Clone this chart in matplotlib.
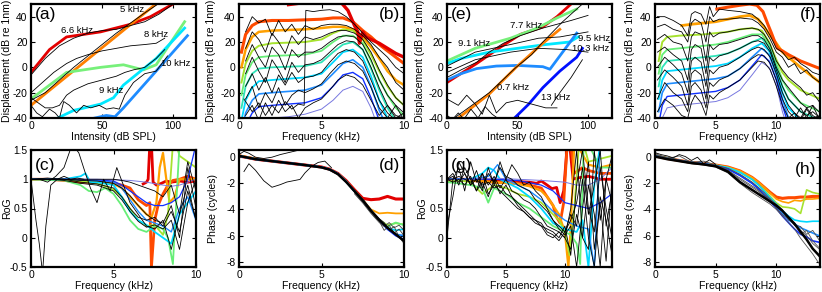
import matplotlib.pyplot as plt

plt.rcParams["font.family"] = ["Liberation Sans", "DejaVu Sans"]
plt.rcParams["font.size"] = 7.4
plt.rcParams["axes.labelsize"] = 7.6
plt.rcParams["axes.unicode_minus"] = False
plt.rcParams["axes.linewidth"] = 1.6
plt.rcParams["xtick.direction"] = "in"
plt.rcParams["ytick.direction"] = "in"
plt.rcParams["xtick.top"] = True
plt.rcParams["ytick.right"] = True
plt.rcParams["xtick.major.size"] = 3
plt.rcParams["ytick.major.size"] = 3
plt.rcParams["xtick.major.width"] = 0.8
plt.rcParams["ytick.major.width"] = 0.8
plt.rcParams["xtick.major.pad"] = 2.5
plt.rcParams["ytick.major.pad"] = 2.5

# ---------------- (a) level functions, first preparation ----------------
a_labels = ["6.6 kHz", "5 kHz", "8 kHz", "9 kHz", "10 kHz"]
a_x = [
    [0, 13, 25, 49, 70, 84, 103],
    [0, 45, 90],
    [0, 25, 49, 65, 79, 88, 95, 108],
    [17, 30, 49, 58, 65, 88, 108],
    [41, 53, 59, 65, 84, 110],
]
a_y = [
    [-4, 14, 24, 28, 34, 40, 52],
    [-30, 11, 52],
    [-25, -4, 0, 2, -2, 2, 14, 36],
    [-41, -34, -29, -24, -14, 7, 31],
    [-41, -38, -39, -32, -8, 25],
]
a_black_x = [
    [0, 10, 20, 30, 40, 50, 60, 70, 80, 92],
    [0, 10, 20, 30, 40, 50, 60, 70, 80, 90, 100],
    [0, 8, 16, 25, 32, 40, 50, 60, 70, 80, 88, 94],
    [0, 5, 10, 15, 20, 25, 30, 40, 50, 60, 66, 72, 80, 88, 94],
    [0, 4, 8, 13, 17, 20, 23, 27, 32, 37, 42, 48, 53, 58, 62, 66, 72, 80, 88, 96],
]
a_black_y = [
    [-26, -20, -10, 0, 9, 18, 27, 35, 43, 52],
    [-6, 7, 17, 23, 27, 29, 30, 33, 36, 42, 50],
    [-20, -12, -4, 3, 7, 10, 13, 15, 17, 18, 19, 23],
    [-24, -28, -32, -32, -30, -22, -18, -13, -10, -7, -4, -2, 0, 7, 14],
    [-30, -36, -39, -33, -36, -40, -27, -30, -36, -30, -32, -30, -33, -32, -33, -22, -12, -5, -3, 9],
]

# ---------------- (e) level functions, second preparation ----------------
e_labels = ["7.7 kHz", "9.1 kHz", "9.5 kHz", "10.3 kHz", "0.7 kHz", "13 kHz"]
e_x = [
    [0, 21, 38, 52, 68, 78, 90],
    [0, 20, 45, 64, 78, 92],
    [0, 10, 30, 50, 70, 87, 93],
    [0, 10, 21, 35, 50, 68, 73, 82, 92],
    [7, 30, 49, 68, 80],
    [47, 58, 68, 80, 92, 96],
]
e_y = [
    [-12, 3, 16, 26, 32, 40, 52],
    [5, 15, 23, 31, 39, 46],
    [3, 7, 12, 15, 18, 20, 24],
    [-10, -5, -1, 1, 1.5, 0.5, -1.5, 12, 27],
    [-41, -21, 0, 19, 30],
    [-41, -29, -16, -3, 8, 15],
]
e_black_x = [
    [0, 10, 21, 30, 40, 52, 60, 68, 78, 88, 100],
    [0, 20, 45, 65, 80, 100],
    [0, 20, 45, 65, 85, 100],
    [4, 30, 49, 60, 68, 75, 82, 90, 96],
    [0, 8, 14, 20, 25, 30, 35, 42, 50, 60, 70, 78],
    [0, 4, 8, 12, 17, 22, 27, 32, 37],
    [74, 80, 88, 96],
]
e_black_y = [
    [-8, -2, 4, 12, 19, 25, 28, 31, 34, 37, 41],
    [1, 12, 18, 23, 24, 28],
    [-4, 6, 12, 15, 14, 12],
    [-41, -20, 0, 10, 20, 28, 36, 44, 50],
    [-25, -30, -22, -29, -37, -22, -36, -28, -26, -29, -32, -32],
    [-38, -41, -36, -41, -33, -40, -31, -37, -41],
    [-30, -20, -8, 6],
]

# ---------------- (b) frequency responses, first preparation ----------------
b_freq = [0.15, 0.4, 0.8, 1.2, 2, 3, 4, 5, 5.7, 6.3, 6.9, 7.5, 8.0, 8.5, 9.0, 9.5, 10]
b_levels = [
    [12, 26, 33, 36, 37, 37, 37.5, 38, 39, 39, 36, 29, 24, 18, 13, 8, 3],
    [0, 14, 24, 28, 29, 29.5, 30, 31, 32, 32, 30, 24, 16, 7, -3, -10, -14],
    [-12, 3, 13, 17, 19, 19.5, 20, 22, 27, 30, 29, 22, 10, -3, -15, -24, -30],
    [-22, -6, 4, 8, 9, 9.5, 10, 13, 20, 25, 25, 19, 5, -10, -22, -32, -38],
    [-32, -15, -5, -1, 0, 0.5, 1, 4, 12, 18, 20, 14, -1, -18, -32, -42, -48],
    [-42, -26, -16, -11, -10, -9, -8, -5, 4, 12, 14, 8, -7, -26, -40, -50, -55],
    [-52, -36, -26, -21, -20, -19, -18, -14, -5, 3, 6, 0, -15, -34, -48, -58, -60],
    [-62, -46, -36, -31, -30, -29, -28, -24, -15, -6, -4, -9, -24, -42, -55, -60, -60],
    [-72, -56, -46, -41, -40, -39, -37, -33, -26, -18, -15, -19, -32, -50, -60, -60, -60],
]
b_red_x = [3.0, 3.6, 4.5, 6.0, 6.6, 7.0, 7.2, 7.3, 7.5, 7.7, 8.0, 8.5, 9.0, 9.5, 10]
b_red_y = [49.5, 50.5, 54, 54, 45, 33, 28, 19, 28, 24, 22, 19, 15, 11, 8]
b_jump_x = [0.3, 0.8, 1.2, 1.6, 2.0, 2.4, 2.8, 3.2, 3.6, 3.95, 4.05, 4.5, 5.0, 5.5, 6.0, 6.5,
            7.0, 7.5, 8.0, 8.5, 9.0, 9.5, 10]
b_jump_y = [-25, -35, -28, -38, -30, -36, -27, -33, -29, -30, 45, 44, 45, 45.5, 44, 40,
            34, 27, 20, 14, 8, 0, -5]
b_black_freq = [0.4, 0.8, 1.2, 1.6, 2.0, 2.4, 2.8, 3.2, 3.6, 4.0, 4.5, 5.0, 5.5, 6.0, 6.5,
                7.0, 7.5, 8.0, 8.5, 9.0, 9.5, 10]
b_black = [
    [28, 40, 35, 38, 25, 37, 28, 34, 26, 33, 30, 33, 34, 34, 33, 30, 25, 18, 8, 0, -12, -18],
    [15, 28, 22, 12, 27, 20, 11, 25, 18, 24, 22, 24, 27, 29, 29, 27, 22, 12, -2, -14, -24, -30],
    [5, 18, 8, 0, 16, 10, -2, 14, 8, 12, 12, 15, 20, 24, 25, 24, 18, 6, -10, -22, -30, -36],
    [-5, 8, -3, -12, 6, -2, -12, 4, -4, 2, 3, 6, 12, 18, 21, 20, 14, 0, -16, -30, -38, -40],
    [-15, -5, -18, -8, -20, -6, -14, -4, -12, -8, -7, -4, 4, 11, 14, 12, 5, -10, -26, -36, -42, -42],
    [-25, -15, -32, -20, -28, -16, -30, -22, -18, -20, -17, -13, -5, 2, 5, 3, -3, -16, -32, -40, -30, -42],
    [-38, -30, -42, -28, -38, -26, -35, -30, -40, -32, -28, -25, -18, -10, -6, -8, -14, -26, -38, -30, -40, -36],
]

# ---------------- (f) frequency responses, second preparation ----------------
f_freq = [0.3, 0.6, 1, 2, 3, 4, 5, 6, 7, 8, 8.8, 9.4, 10, 10.5, 11, 12, 13.6]
f_levels = [
    [5, 20, 24, 25, 25.5, 26, 27, 28, 30, 31, 29, 20, 6, -4, -10, -18, -25],
    [-5, 10, 14, 15, 16, 17, 18, 20, 23, 26, 26, 18, 3, -10, -18, -28, -35],
    [-15, 0, 5, 6, 7, 8, 9, 11, 15, 20, 23, 16, 0, -15, -25, -35, -42],
    [-25, -10, -3, -2, -1, 0, 1, 3, 8, 15, 19, 13, -3, -20, -32, -42, -48],
    [-35, -20, -13, -12, -11, -10, -9, -7, -1, 8, 15, 10, -6, -25, -40, -50, -55],
    [-45, -30, -23, -22, -21, -20, -19, -16, -10, 1, 10, 5, -10, -30, -45, -55, -60],
    [-55, -40, -32, -30, -29, -28, -27, -24, -18, -6, 4, 0, -14, -35, -50, -60, -60],
]
f_red_x = [5.1, 6, 7, 7.8, 8.4, 8.9, 9.3, 9.6, 9.8, 10.1, 10.5, 11, 12, 13.6]
f_red_y = [46, 47.5, 49, 50, 49, 44, 34, 27, 22, 15, 13, 10, 5, -1]
f_orange_x = [2.2, 3, 4, 5, 6, 7, 7.8, 8.5, 9, 9.5, 10, 10.5, 11, 12, 13.6]
f_orange_y = [33, 34, 35, 36, 38, 40, 41, 38, 32, 25, 19, 12, 8, 0, -12]
f_black_freq = [0.2, 0.8, 1.5, 2.2, 2.7, 3.0, 3.3, 3.8, 4.2, 4.5, 4.8, 5.3, 6, 7, 8, 8.5, 9,
                9.5, 10, 10.5, 11, 11.5, 12, 12.5, 13, 13.6]
f_black = [
    [40, 40, 37, 33, 25, 42, 44, 42, 34, 48, 40, 46, 45, 44, 42, 38, 33, 25, 15, 12, 6, 8, 3, 0, -4, -6],
    [32, 34, 30, 28, 20, 35, 38, 35, 20, 40, 36, 38, 38, 39, 38, 35, 30, 22, 12, 8, 0, 3, -5, -2, -8, -12],
    [22, 26, 20, 18, 5, 24, 28, 26, 5, 28, 24, 27, 28, 30, 31, 30, 26, 18, 5, -2, -8, -12, -16, -22, -20, -28],
    [12, 16, 10, 5, -10, 14, 18, 15, -5, 18, 14, 18, 19, 22, 25, 25, 22, 14, 0, -10, -16, -22, -28, -32, -30, -36],
    [0, 8, 2, -5, -20, 5, 8, 4, -15, 8, 5, 9, 11, 15, 20, 21, 19, 12, -2, -15, -25, -30, -35, -38, -35, -40],
    [-10, -2, -8, -15, -30, -5, -2, -6, -25, -2, -5, 0, 2, 8, 14, 16, 14, 8, -5, -20, -30, -36, -40, -32, -38, -42],
    [-25, -12, -20, -25, -35, -15, -12, -18, -32, -12, -15, -10, -7, -1, 7, 10, 9, 3, -10, -25, -35, -40, -32, -40, -30, -42],
    [-35, -25, -30, -38, -40, -28, -22, -28, -38, -22, -25, -20, -16, -10, 0, 5, 4, -2, -15, -30, -40, -36, -42, -33, -40, -38],
]

# ---------------- (c) ratio of gains, first preparation ----------------
c_x = [
    [6.8, 7.0, 7.1, 7.2, 7.3, 7.4, 7.6, 7.9, 8.2, 8.5, 9.0, 9.5, 10],
    [0, 1, 2, 3, 4, 5, 5.5, 6, 6.5, 7, 7.2, 7.3, 7.5, 7.7, 8.0, 8.3, 8.6, 9, 9.5, 10],
    [0, 2, 3, 4, 5, 5.5, 6, 6.5, 7, 7.3, 7.6, 7.8, 8.0, 8.2, 8.4, 8.7, 9, 10],
    [0, 2, 3, 4, 4.5, 5, 5.5, 6, 6.5, 7, 7.5, 8, 8.3, 8.6, 8.8, 9, 10],
    [0, 2, 3, 3.5, 4, 4.5, 5, 5.5, 6, 6.5, 7, 7.5, 8, 8.3, 8.6, 9, 10],
    [0, 2, 3, 3.3, 3.6, 4, 5, 5.5, 6, 6.5, 7, 7.5, 8, 8.5, 9, 10],
    [0, 2, 4, 5, 5.5, 6, 6.5, 7, 7.5, 8, 8.5, 9, 9.5, 10],
    [0, 2, 4, 5, 5.5, 6, 6.5, 7, 7.5, 8, 8.5, 9, 9.5, 10],
    [0, 2, 4, 6, 7, 8, 8.5, 9, 9.5, 10],
]
c_y = [
    [0.92, 0.95, 1.0, 1.6, 1.6, 0.95, 0.9, 0.93, 0.97, 0.95, 0.97, 0.95, 0.97],
    [1.0, 1.0, 0.98, 0.95, 0.95, 0.93, 0.9, 0.85, 0.65, 0.55, 0.6, -0.5, 0.3, 0.55, 0.75, 0.9, 0.98, 1.0, 1.05, 1.0],
    [1, 1, 0.98, 0.96, 0.92, 0.85, 0.7, 0.55, 0.4, 0.35, 0.6, 1.2, 1.45, 1.0, 0.6, 0.7, 1.0, 1.0],
    [1, 1, 0.97, 0.93, 0.88, 0.82, 0.7, 0.5, 0.3, 0.2, 0.22, 0.05, 0.4, 1.6, 1.6, 1.4, 1.2],
    [1, 0.98, 0.9, 0.8, 0.78, 0.85, 0.75, 0.55, 0.3, 0.15, 0.1, 0.2, 0.15, 0.0, -0.45, 1.6, 1.6],
    [1, 1, 1.05, 1.1, 0.95, 0.95, 0.9, 0.7, 0.45, 0.3, 0.22, 0.1, 0.0, -0.1, 0.4, 0.8],
    [1, 1, 0.98, 0.95, 0.85, 0.65, 0.45, 0.3, 0.25, 0.2, 0.1, 0.5, 0.7, 0.3],
    [1, 1, 0.99, 0.97, 0.9, 0.8, 0.7, 0.6, 0.55, 0.55, 0.6, 0.7, 1.0, 1.6],
    [1, 1, 1, 0.98, 0.95, 0.9, 0.88, 0.9, 0.95, 1.0],
]
c_black_freq = [0, 1, 2, 3, 4, 5, 5.5, 6, 6.5, 7, 7.5, 8, 8.5, 9, 9.5, 10]
c_black = [
    [1, 1.02, 1.0, 0.95, 0.92, 0.85, 0.7, 0.5, 0.35, 0.3, 0.35, 0.2, 0.45, 0.1, 0.8, 0.3],
    [1, 1.0, 0.98, 0.93, 0.9, 0.8, 0.65, 0.45, 0.28, 0.18, 0.22, 0.15, 0.3, -0.2, 0.6, 1.0],
    [1, 1, 1, 0.98, 0.97, 0.93, 0.85, 0.72, 0.55, 0.4, 0.3, 0.25, 0.55, 0.0, 1.2, 0.5],
    [1, 1, 1, 1, 1, 1.0, 0.98, 0.95, 0.9, 0.85, 0.8, 0.7, 0.9, 0.4, 1.3, 0.8],
]
c_wild1_x = [0, 0.3, 0.5, 0.7, 0.9, 1.2, 1.6, 2.0, 2.4, 2.8, 3.2]
c_wild1_y = [1.0, 0.3, -0.1, -0.6, 0.2, 0.9, 1.0, 1.05, 1.0, 1.02, 1.0]
c_wild2_x = [0, 0.5, 1.0, 1.5, 2.0, 2.5, 2.9, 3.3, 3.6, 4.0, 4.4, 4.8, 5.2, 5.6, 6.0, 6.5, 7.0,
             7.5, 8.0, 8.5, 9.0, 9.5, 10]
c_wild2_y = [1.0, 1.0, 0.95, 1.05, 1.2, 1.6, 1.45, 1.1, 0.85, 0.6, 1.0, 0.8, 1.2, 0.9, 0.6, 0.4,
             0.2, 0.15, 0.3, -0.2, 0.4, 0.9, 0.3]

# ---------------- (g) ratio of gains, second preparation ----------------
g_x = [
    [0, 2, 4, 6, 7, 7.6, 8.0, 8.5, 8.9, 9.3, 9.6, 9.9, 10.2, 10.4, 10.7, 11, 12, 13, 14],
    [0, 2, 4, 6, 7, 8, 8.5, 9, 9.3, 9.6, 9.9, 10.2, 10.5, 10.8, 11.5, 12, 13, 14],
    [0, 2, 4, 6, 7, 8, 8.5, 9, 9.5, 10, 10.3, 10.5, 10.8, 11, 12, 13, 14],
    [0, 1, 2, 3, 4, 5, 6, 7, 8, 9, 9.5, 10, 10.4, 10.8, 11.2, 11.6, 12, 13, 14],
    [0, 1, 2, 3, 3.5, 4, 5, 6, 7, 8, 9, 10, 10.5, 11, 11.3, 11.6, 12, 13, 14],
    [0, 2, 3, 3.5, 4, 4.5, 5, 6, 7, 8, 9, 10, 11, 11.5, 12, 12.5, 13, 14],
    [0, 2, 3.5, 4.3, 5, 6, 7, 8, 9, 10, 11, 12, 12.5, 13, 14],
    [0, 2, 4, 6, 8, 9, 10, 11, 12, 13, 14],
    [0, 2, 4, 6, 8, 10, 11, 12, 13, 14],
]
g_y = [
    [1, 1, 0.98, 0.96, 0.95, 0.93, 0.97, 0.9, 0.84, 0.86, 0.6, 0.8, 1.6, 1.6, 1.0, 1.02, 1.05, 1.0, 1.0],
    [1, 0.98, 0.95, 0.93, 0.9, 0.85, 0.7, 0.55, 0.35, 0.25, 0.6, 1.6, 1.6, 1.1, 1.2, 1.15, 1.1, 1.1],
    [1, 0.98, 0.95, 0.92, 0.88, 0.8, 0.7, 0.55, 0.4, 0.1, -0.5, 0.2, 1.6, 1.6, 1.25, 1.2, 1.25],
    [0.95, 0.98, 0.95, 0.75, 0.9, 0.85, 0.75, 0.7, 0.6, 0.4, 0.3, 0.1, -0.3, 0.5, 1.6, 1.6, 1.3, 1.35, 1.4],
    [0.95, 0.93, 0.9, 0.85, 0.6, 0.85, 0.75, 0.6, 0.5, 0.35, 0.2, 0.1, 0.05, -0.1, -0.45, 1.6, 1.6, 1.2, 1.2],
    [1, 1, 1.1, 1.2, 1.15, 1.0, 0.95, 0.85, 0.7, 0.5, 0.25, 0.15, 0.1, 0.3, -0.5, 0.9, 1.6, 1.6],
    [1, 1, 1.05, 1.25, 1.0, 0.9, 0.8, 0.65, 0.45, 0.3, 0.2, 0.15, -0.5, 1.6, 1.6],
    [1, 1, 1, 0.98, 0.9, 0.8, 0.6, 0.55, 0.5, 0.6, 0.75],
    [1, 1, 1.02, 1.0, 0.98, 0.95, 0.9, 0.9, 1.0, 1.2],
]
g_black_freq = [0, 0.5, 1, 1.5, 2, 2.5, 3, 3.5, 4, 4.5, 5, 5.5, 6, 6.5, 7, 7.5, 8, 8.5, 9,
                9.5, 10, 10.5, 11, 11.5, 12, 12.5, 13, 13.5, 14]
g_black = [
    [0.2, 0.7, 1.3, 1.1, 0.9, 1.0, 0.8, 1.2, 0.9, 1.3, 1.0, 1.25, 1.1, 0.9, 0.95, 0.8, 0.7, 0.5, 0.3, 0.2, 0.1, 0.3, 0.6, 1.2, 0.4, 0.9, 1.5, 0.2, 0.8],
    [1.0, 1.05, 0.95, 1.1, 0.9, 1.15, 0.85, 1.1, 0.95, 1.2, 1.05, 1.0, 0.9, 0.85, 0.8, 0.65, 0.55, 0.45, 0.3, 0.15, 0.05, 0.2, -0.5, 0.5, 1.3, -0.2, 0.6, -0.4, 1.0],
    [1, 0.95, 1.0, 0.9, 1.05, 0.8, 0.95, 0.7, 1.0, 0.75, 0.9, 0.7, 0.6, 0.5, 0.4, 0.3, 0.25, 0.1, 0.05, -0.05, 0.1, 0.4, 0.2, 1.0, 0.0, -0.5, 0.7, 0.3, -0.3],
    [1, 1.0, 1.05, 1.0, 0.95, 1.0, 0.9, 0.95, 0.85, 0.9, 0.75, 0.7, 0.55, 0.45, 0.35, 0.25, 0.2, 0.15, 0.1, 0.0, 0.2, -0.3, 0.9, 1.5, 0.5, 0.1, 1.2, 0.5, 0.0],
    [0.0, 1.0, 1.2, 0.8, 1.3, 0.95, 1.1, 0.9, 1.05, 0.85, 1.0, 0.8, 0.75, 0.65, 0.6, 0.5, 0.35, 0.2, 0.15, 0.1, 0.0, 0.5, 1.5, 0.0, -0.2, 1.5, 0.3, 1.0, 0.6],
    [1, 1.1, 0.9, 1.2, 1.0, 0.8, 1.1, 0.75, 0.9, 0.8, 0.7, 0.6, 0.5, 0.45, 0.35, 0.3, 0.2, 0.05, 0.0, 0.1, 0.0, -0.2, 0.4, 0.0, 0.9, 0.4, -0.5, 1.0, 1.4],
]

# ---------------- (d) phase, first preparation ----------------
d_freq = [0, 1, 2, 3, 4, 5, 5.5, 6, 6.5, 7, 7.5, 8, 8.5, 9, 9.5, 10]
d_levels = [
    [0.1, -0.15, -0.3, -0.45, -0.6, -0.75, -0.92, -1.25, -1.8, -2.5, -3.15, -3.25, -3.2, -3.0, -3.2, -3.2],
    [0.15, -0.1, -0.3, -0.45, -0.6, -0.76, -0.93, -1.27, -1.85, -2.55, -3.25, -4.0, -4.3, -4.25, -4.3, -4.3],
    [0.1, -0.15, -0.3, -0.45, -0.6, -0.77, -0.94, -1.28, -1.88, -2.6, -3.3, -4.1, -4.8, -5.2, -5.05, -5.15],
    [0.1, -0.15, -0.3, -0.45, -0.6, -0.77, -0.94, -1.28, -1.88, -2.6, -3.3, -4.1, -4.8, -5.3, -5.0, -5.2],
    [0.1, -0.15, -0.3, -0.45, -0.6, -0.77, -0.94, -1.28, -1.88, -2.6, -3.3, -4.1, -4.8, -5.4, -5.6, -5.5],
    [0.1, -0.15, -0.3, -0.45, -0.6, -0.77, -0.94, -1.28, -1.88, -2.6, -3.3, -4.1, -4.8, -5.5, -5.9, -6.0],
    [0.1, -0.15, -0.3, -0.45, -0.6, -0.77, -0.94, -1.28, -1.88, -2.6, -3.3, -4.1, -4.8, -5.5, -6.0, -6.3],
]
d_black_main = [0.1, -0.15, -0.3, -0.45, -0.6, -0.78, -0.95, -1.3, -1.9, -2.6, -3.3, -4.1, -4.8, -5.4, -5.9, -6.4]
d_tail_freq = [7, 7.5, 8, 8.5, 8.8, 9.1, 9.4, 9.7, 10]
d_tails = [
    [-2.7, -3.4, -4.2, -4.9, -5.6, -5.2, -5.8, -5.5, -6.0],
    [-2.5, -3.2, -4.0, -4.7, -5.0, -5.6, -5.3, -6.1, -6.6],
    [-2.8, -3.5, -4.3, -5.0, -5.3, -5.0, -5.4, -5.2, -5.6],
]
d_wiggle1_x = [0.3, 0.6, 1.0, 1.5, 2.0, 2.5, 2.9, 3.3, 3.7, 4.0, 4.4, 4.8, 5.2, 5.6]
d_wiggle1_y = [-1.1, -0.5, -1.0, -1.8, -2.3, -2.1, -1.9, -1.8, -1.7, -1.2, -0.7, -0.4, -0.3, -0.8]
d_wiggle2_x = [0, 0.3, 0.6, 1.0, 1.5, 2.0, 2.5, 3.0, 3.5, 3.8]
d_wiggle2_y = [0.2, 0.45, 0.3, 0.0, -0.1, 0.0, 0.2, 0.35, 0.5, 0.8]

# ---------------- (h) phase, second preparation ----------------
h_freq = [0, 1, 2, 3, 4, 5, 6, 7, 8, 8.5, 9, 9.5, 10, 10.5, 11, 11.5, 12, 12.5, 13, 13.5, 14]
h_levels = [
    [0.1, -0.1, -0.25, -0.4, -0.5, -0.6, -0.75, -1.05, -1.55, -1.9, -2.3, -2.7, -3.05, -3.15, -3.1, -3.1, -3.05, -3.05, -3.0, -3.0, -3.0],
    [0.1, -0.1, -0.25, -0.4, -0.5, -0.6, -0.75, -1.05, -1.55, -1.9, -2.3, -2.75, -3.2, -3.4, -3.5, -3.3, -3.35, -3.2, -3.2, -3.15, -3.1],
    [0.15, -0.05, -0.25, -0.4, -0.5, -0.62, -0.8, -1.15, -1.7, -2.1, -2.5, -3.0, -3.5, -3.8, -3.85, -3.95, -4.3, -2.5, -2.7, -2.8, -2.9],
    [0.1, -0.1, -0.25, -0.4, -0.5, -0.62, -0.8, -1.15, -1.7, -2.1, -2.6, -3.1, -3.6, -4.1, -4.5, -4.8, -4.9, -4.95, -4.9, -4.9, -4.9],
    [0.1, -0.1, -0.25, -0.4, -0.5, -0.65, -0.9, -1.35, -1.95, -2.35, -2.8, -3.3, -3.8, -4.3, -4.8, -5.1, -5.4, -5.6, -5.8, -6.0, -6.1],
    [0.1, -0.1, -0.25, -0.4, -0.5, -0.65, -0.9, -1.4, -2.0, -2.4, -2.9, -3.4, -3.9, -4.5, -5.0, -5.5, -5.9, -6.1, -6.4, -6.5, -6.6],
]
h_black_main = [0.05, -0.15, -0.3, -0.45, -0.55, -0.7, -1.1, -1.9, -2.5, -2.8, -3.1, -3.4, -3.7, -4.1, -4.6, -5.1, -5.7, -6.3, -7.0, -7.5, -8.0]
h_black = [
    [0.2, 0.0, -0.2, -0.35, -0.5, -0.65, -1.0, -1.7, -2.3, -2.6, -3.0, -3.3, -3.7, -4.1, -4.6, -5.2, -5.6, -6.0, -6.6, -7.0, -7.4],
    [0.1, -0.1, -0.3, -0.5, -0.6, -0.75, -1.2, -2.0, -2.7, -3.0, -3.3, -3.6, -4.0, -4.5, -5.0, -5.5, -6.2, -6.8, -7.4, -8.1, -7.8],
    [0.3, -0.1, 0.1, -0.4, -0.3, -0.6, -1.0, -1.6, -2.2, -2.5, -2.9, -3.2, -3.6, -4.0, -4.8, -5.0, -5.9, -5.6, -6.4, -6.9, -7.1],
    [0.1, -0.1, -0.25, -0.4, -0.5, -0.62, -0.85, -1.3, -1.9, -2.3, -2.7, -3.2, -3.9, -4.4, -4.7, -5.2, -5.3, -5.9, -5.6, -6.3, -6.0],
]
h_wiggle_x = [0, 0.5, 1, 1.5, 2, 2.5, 3, 3.5, 4, 4.5, 5]
h_wiggle_y = [0.35, 0.2, 0.1, -0.05, 0.2, 0.05, -0.25, 0.0, -0.5, -0.2, -0.55]

# ---------------- styles ----------------
RED, ORANGERED, ORANGE = "#e30000", "#ff4a00", "#ffa000"
YGREEN, LGREEN, TEAL = "#a6e22e", "#66ee77", "#30e4b8"
CYAN, AZURE, BLUE, SLATE = "#00d8ff", "#1e8cff", "#1030ff", "#7878e0"
LEVEL_COLORS = [ORANGERED, ORANGE, YGREEN, LGREEN, TEAL, CYAN, AZURE, BLUE, SLATE]
LEVEL_WIDTHS = [2.2, 1.8, 1.4, 1.3, 1.3, 1.3, 1.2, 1.0, 0.7]
F_COLORS = [YGREEN, LGREEN, TEAL, CYAN, AZURE, BLUE, SLATE]
F_WIDTHS = [1.4, 1.3, 1.3, 1.3, 1.2, 1.0, 0.7]
ROG_COLORS = [RED, ORANGERED, ORANGE, YGREEN, LGREEN, CYAN, AZURE, BLUE, SLATE]
ROG_WIDTHS = [2.0, 2.0, 1.6, 1.3, 1.3, 1.3, 1.0, 0.9, 0.7]
D_COLORS = [RED, ORANGE, YGREEN, LGREEN, CYAN, AZURE, BLUE]
H_COLORS = [ORANGERED, ORANGE, YGREEN, CYAN, AZURE, BLUE]
K_LW = 0.6

LEFTS = [31, 239, 447, 655]
W = 165
FIG_W, FIG_H = 822, 292


def make_axes(fig, col, top, bottom):
    return fig.add_axes([LEFTS[col] / FIG_W, 1 - bottom / FIG_H, W / FIG_W, (bottom - top) / FIG_H])


def tag(ax, text, right, y):
    ax.text(0.975 if right else 0.025, y, text, transform=ax.transAxes, fontsize=12.5,
            ha="right" if right else "left", va="top")


def labels(ax, xlabel, ylabel, ylab_x):
    ax.set_xlabel(xlabel, labelpad=0.5)
    ax.set_ylabel(ylabel)
    ax.yaxis.set_label_coords(ylab_x, 0.5)


def top_axes(ax, xlabel, xlim, xticks, ylab_x):
    ax.set_xlim(*xlim)
    ax.set_ylim(-40, 50)
    ax.set_xticks(xticks)
    ax.set_yticks([-40, -20, 0, 20, 40])
    labels(ax, xlabel, "Displacement (dB re 1nm)", ylab_x)


def main():
    fig = plt.figure(figsize=(FIG_W / 100, FIG_H / 100), dpi=100)
    fig.patch.set_facecolor("white")

    # (a)
    ax = make_axes(fig, 0, 4, 118)
    a_cols = [RED, "#ff8000", "#77f07a", "#00e8ff", AZURE]
    for xs, ys, c in zip(a_x, a_y, a_cols):
        ax.plot(xs, ys, color=c, lw=2.0)
    for xs, ys in zip(a_black_x, a_black_y):
        ax.plot(xs, ys, color="k", lw=K_LW)
    for lab, (px, py) in zip(a_labels, [(32, 29), (71, 46), (88, 26), (56, -18), (102, 3)]):
        ax.text(px, py, lab, fontsize=6.8, ha="center", va="center")
    top_axes(ax, "Intensity (dB SPL)", (0, 116), [0, 50, 100], -0.115)
    tag(ax, "(a)", False, 0.97)

    # (b)
    ax = make_axes(fig, 1, 4, 118)
    for ys, c, lw in zip(b_levels, LEVEL_COLORS, LEVEL_WIDTHS):
        ax.plot(b_freq, ys, color=c, lw=lw)
    ax.plot(b_red_x, b_red_y, color=RED, lw=2.4)
    for ys in b_black:
        ax.plot(b_black_freq, ys, color="k", lw=K_LW)
    ax.plot(b_jump_x, b_jump_y, color="k", lw=K_LW)
    top_axes(ax, "Frequency (kHz)", (0, 10), [0, 5, 10], -0.14)
    tag(ax, "(b)", True, 0.97)

    # (e)
    ax = make_axes(fig, 2, 4, 118)
    e_cols = [RED, "#77f07a", "#00e8ff", AZURE, "#ff8000", "#0010ff"]
    for xs, ys, c in zip(e_x, e_y, e_cols):
        ax.plot(xs, ys, color=c, lw=2.0)
    for xs, ys in zip(e_black_x, e_black_y):
        ax.plot(xs, ys, color="k", lw=K_LW)
    for lab, (px, py) in zip(e_labels, [(56, 33), (19, 19), (104, 23), (102, 15), (47, -16), (77, -24)]):
        ax.text(px, py, lab, fontsize=6.8, ha="center", va="center")
    top_axes(ax, "Intensity (dB SPL)", (0, 117), [0, 50, 100], -0.133)
    tag(ax, "(e)", False, 0.97)

    # (f)
    ax = make_axes(fig, 3, 4, 118)
    for ys, c, lw in zip(f_levels, F_COLORS, F_WIDTHS):
        ax.plot(f_freq, ys, color=c, lw=lw)
    ax.plot(f_orange_x, f_orange_y, color=ORANGE, lw=2.0)
    ax.plot(f_red_x, f_red_y, color=ORANGERED, lw=2.2)
    for ys in f_black:
        ax.plot(f_black_freq, ys, color="k", lw=K_LW)
    top_axes(ax, "Frequency (kHz)", (0, 13.6), [0, 5, 10], -0.12)
    tag(ax, "(f)", True, 0.97)

    # (c)
    ax = make_axes(fig, 0, 150, 267)
    for xs, ys, c, lw in zip(c_x, c_y, ROG_COLORS, ROG_WIDTHS):
        ax.plot(xs, ys, color=c, lw=lw)
    for ys in c_black:
        ax.plot(c_black_freq, ys, color="k", lw=K_LW)
    ax.plot(c_wild1_x, c_wild1_y, color="k", lw=K_LW)
    ax.plot(c_wild2_x, c_wild2_y, color="k", lw=K_LW)
    ax.set_xlim(0, 10)
    ax.set_ylim(-0.5, 1.5)
    ax.set_xticks([0, 5, 10])
    ax.set_yticks([-0.5, 0, 0.5, 1, 1.5])
    ax.set_yticklabels(["-0.5", "0", "0.5", "1", "1.5"])
    labels(ax, "Frequency (kHz)", "RoG", -0.115)
    tag(ax, "(c)", False, 0.93)

    # (d)
    ax = make_axes(fig, 1, 150, 267)
    for ys, c in zip(d_levels, D_COLORS):
        ax.plot(d_freq, ys, color=c, lw=2.2 if c == RED else 1.3)
    for ys in d_tails:
        ax.plot(d_tail_freq, ys, color="#404040", lw=K_LW)
    ax.plot(d_wiggle1_x, d_wiggle1_y, color="k", lw=K_LW)
    ax.plot(d_wiggle2_x, d_wiggle2_y, color="k", lw=K_LW)
    ax.plot(d_freq, d_black_main, color="k", lw=1.8)
    ax.set_xlim(0, 10)
    ax.set_ylim(-8.4, 0.55)
    ax.set_xticks([0, 5, 10])
    ax.set_yticks([-8, -6, -4, -2, 0])
    labels(ax, "Frequency (kHz)", "Phase (cycles)", -0.127)
    tag(ax, "(d)", True, 0.93)

    # (g)
    ax = make_axes(fig, 2, 150, 267)
    for xs, ys, c, lw in zip(g_x, g_y, ROG_COLORS, ROG_WIDTHS):
        ax.plot(xs, ys, color=c, lw=lw)
    for ys in g_black:
        ax.plot(g_black_freq, ys, color="k", lw=K_LW)
    ax.set_xlim(0, 14)
    ax.set_ylim(-0.5, 1.5)
    ax.set_xticks([0, 5, 10])
    ax.set_yticks([-0.5, 0, 0.5, 1, 1.5])
    ax.set_yticklabels(["-0.5", "0", "0.5", "1", "1.5"])
    labels(ax, "Frequency (kHz)", "RoG", -0.12)
    tag(ax, "(g)", False, 0.93)

    # (h)
    ax = make_axes(fig, 3, 150, 267)
    for ys, c in zip(h_levels, H_COLORS):
        ax.plot(h_freq, ys, color=c, lw=2.2 if c == ORANGERED else 1.2)
    for ys in h_black:
        ax.plot(h_freq, ys, color="#505050", lw=K_LW)
    ax.plot(h_wiggle_x, h_wiggle_y, color="k", lw=K_LW)
    ax.plot(h_freq, h_black_main, color="k", lw=1.8)
    ax.set_xlim(0, 13.6)
    ax.set_ylim(-8.4, 0.55)
    ax.set_xticks([0, 5, 10])
    ax.set_yticks([-8, -6, -4, -2, 0])
    labels(ax, "Frequency (kHz)", "Phase (cycles)", -0.12)
    tag(ax, "(h)", True, 0.90)

    fig.savefig("out.png", dpi=100, facecolor="white")
    plt.close(fig)


if __name__ == "__main__":
    main()
